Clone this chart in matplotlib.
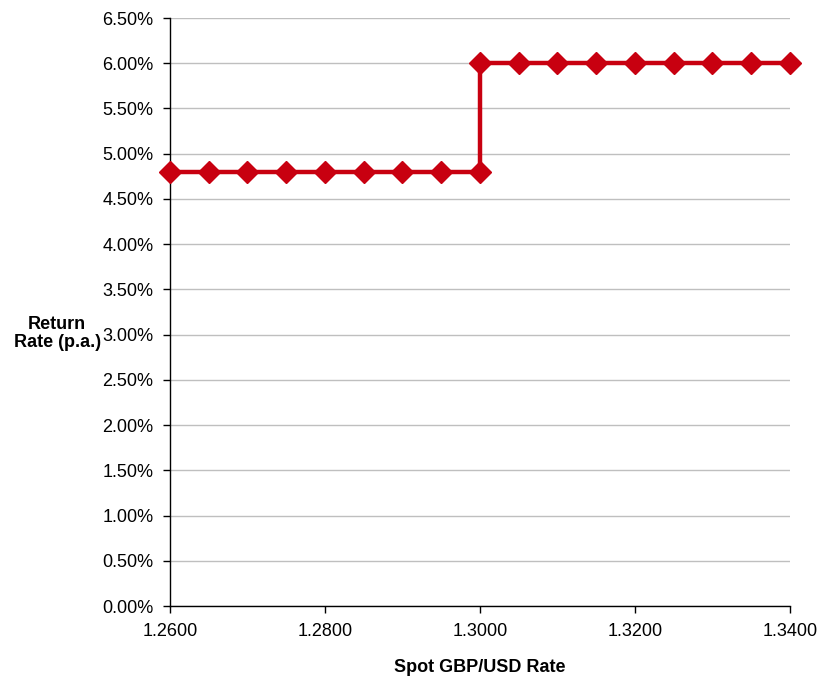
import numpy as np
import matplotlib.pyplot as plt

plt.rcParams['font.family'] = ['Liberation Sans', 'DejaVu Sans']

# spot rates (1.3000 appears twice: the step)
spot = [1.2600, 1.2650, 1.2700, 1.2750, 1.2800, 1.2850, 1.2900, 1.2950, 1.3000,
        1.3000, 1.3050, 1.3100, 1.3150, 1.3200, 1.3250, 1.3300, 1.3350, 1.3400]
rate = [0.048, 0.048, 0.048, 0.048, 0.048, 0.048, 0.048, 0.048, 0.048,
        0.060, 0.060, 0.060, 0.060, 0.060, 0.060, 0.060, 0.060, 0.060]

x_ticks = [1.26, 1.28, 1.30, 1.32, 1.34]
y_ticks = np.arange(0, 0.0651, 0.005)

fig = plt.figure(figsize=(8.28, 6.82), dpi=100)
ax = fig.add_axes([0.2053, 0.1114, 0.7487, 0.8622])

ax.plot(spot, rate, color='#C80010', lw=3.2, marker='D', markersize=11,
        markeredgecolor='#C80010', clip_on=False, zorder=3)

ax.set_xlim(1.26, 1.34)
ax.set_ylim(0, 0.065)
ax.set_xticks(x_ticks)
ax.set_xticklabels([f'{v:.4f}' for v in x_ticks], fontsize=13)
ax.set_yticks(y_ticks)
ax.set_yticklabels([f'{v*100:.2f}%' for v in y_ticks], fontsize=13)

ax.yaxis.grid(True, color='#bfbfbf', lw=1)
ax.set_axisbelow(True)
for s in ['top', 'right']:
    ax.spines[s].set_visible(False)
for s in ['left', 'bottom']:
    ax.spines[s].set_color('black')
    ax.spines[s].set_linewidth(1)
ax.tick_params(direction='out', length=5, width=1, color='black')
ax.tick_params(axis='x', pad=7)
ax.tick_params(axis='y', pad=7)

ax.set_xlabel('Spot GBP/USD Rate', fontsize=13, fontweight='bold', labelpad=14)
ax.set_ylabel('Return\nRate (p.a.)', fontsize=13, fontweight='bold', rotation=0,
              ha='center', va='center', linespacing=1.05)
ax.yaxis.set_label_coords(-0.182, 0.463)

fig.savefig('out.png', dpi=100)
